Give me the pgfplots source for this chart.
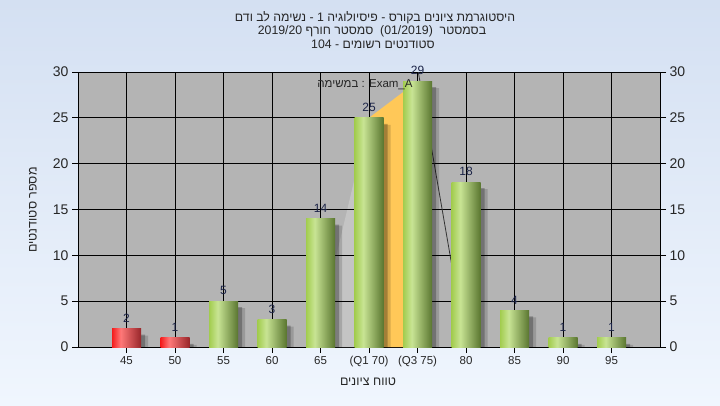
\documentclass[border=0pt]{standalone}
\usepackage{pgfplots}
\pgfplotsset{compat=1.18}
\usepackage{fontspec}
\setmainfont{Liberation Sans}
\newfontfamily\heb[Script=Hebrew]{Liberation Sans}
\TeXXeTstate=1
\definecolor{bgtop}{HTML}{D4E0F2}
\definecolor{bgbot}{HTML}{F0F6FE}
\definecolor{plotgray}{HTML}{B4B4B4}
\definecolor{gA}{HTML}{A2CC4E}
\definecolor{gB}{HTML}{C8E494}
\definecolor{gC}{HTML}{5A7630}
\definecolor{rA}{HTML}{F41C1C}
\definecolor{rB}{HTML}{FF7878}
\definecolor{rC}{HTML}{98262A}
\definecolor{qorange}{HTML}{FFC858}
\definecolor{lbl}{HTML}{1C2448}
\definecolor{lightpoly}{HTML}{C4C4C4}
\pgfdeclarehorizontalshading{greenbar}{100bp}{color(0bp)=(gA); color(25bp)=(gA); color(40bp)=(gB); color(75bp)=(gC); color(100bp)=(gC)}
\pgfdeclarehorizontalshading{redbar}{100bp}{color(0bp)=(rA); color(25bp)=(rA); color(40bp)=(rB); color(75bp)=(rC); color(100bp)=(rC)}
\pgfplotsset{/pgf/number format/assume math mode=true,
  gbar/.style={ybar, bar width=29pt, bar shift=0pt, shading=greenbar, draw=none, nodes near coords},
  rbar/.style={ybar, bar width=29pt, bar shift=0pt, shading=redbar, draw=none, nodes near coords},
  gf/.style={fill=black, draw=none, forget plot}}
\begin{document}
\begin{tikzpicture}[x=1pt,y=1pt]
\shade[top color=bgtop, bottom color=bgbot] (0,0) rectangle (720,405);
\fill[plotgray] (78,58) rectangle (660,333);
\begin{axis}[at={(78pt,58pt)}, anchor=south west, scale only axis,
  width=582pt, height=275pt, xmin=-1, xmax=11, ymin=0, ymax=30,
  xtick={0,...,10}, xticklabels={45,50,55,60,65,(Q1 70),(Q3 75),80,85,90,95},
  ytick={0,5,...,30},
  tick align=outside, major tick length=6pt, xtick pos=bottom, ytick pos=left,
  tick style={black, line width=0.8pt}, axis line style={black, line width=0.8pt},
  xticklabel style={font=\fontsize{11.5}{12}\selectfont, text=black!85},
  yticklabel style={font=\fontsize{14}{15}\selectfont, text=black!85},
  nodes near coords style={font=\fontsize{12}{13}\selectfont, text=lbl, anchor=south, inner sep=1pt, yshift=5pt}]
\addplot[fill=lightpoly, draw=none, forget plot] coordinates {(3.88,0) (5,25) (5,0) (3.88,0)};
% grid lines as thin filled strips (about 1px wide)
\addplot[gf] coordinates {(-0.0095,0) (-0.0095,30) (0.0095,30) (0.0095,0)};
\addplot[gf] coordinates {(0.9905,0) (0.9905,30) (1.0095,30) (1.0095,0)};
\addplot[gf] coordinates {(1.9905,0) (1.9905,30) (2.0095,30) (2.0095,0)};
\addplot[gf] coordinates {(2.9905,0) (2.9905,30) (3.0095,30) (3.0095,0)};
\addplot[gf] coordinates {(3.9905,0) (3.9905,30) (4.0095,30) (4.0095,0)};
\addplot[gf] coordinates {(4.9905,0) (4.9905,30) (5.0095,30) (5.0095,0)};
\addplot[gf] coordinates {(5.9905,0) (5.9905,30) (6.0095,30) (6.0095,0)};
\addplot[gf] coordinates {(6.9905,0) (6.9905,30) (7.0095,30) (7.0095,0)};
\addplot[gf] coordinates {(7.9905,0) (7.9905,30) (8.0095,30) (8.0095,0)};
\addplot[gf] coordinates {(8.9905,0) (8.9905,30) (9.0095,30) (9.0095,0)};
\addplot[gf] coordinates {(9.9905,0) (9.9905,30) (10.0095,30) (10.0095,0)};
\addplot[gf] coordinates {(-1,4.95) (11,4.95) (11,5.05) (-1,5.05)};
\addplot[gf] coordinates {(-1,9.95) (11,9.95) (11,10.05) (-1,10.05)};
\addplot[gf] coordinates {(-1,14.95) (11,14.95) (11,15.05) (-1,15.05)};
\addplot[gf] coordinates {(-1,19.95) (11,19.95) (11,20.05) (-1,20.05)};
\addplot[gf] coordinates {(-1,24.95) (11,24.95) (11,25.05) (-1,25.05)};
\addplot[fill=qorange, draw=none, forget plot] coordinates {(5,0) (5,25) (6,29) (6,0) (5,0)};
\addplot[black!80, line width=0.8pt, forget plot] coordinates {(6,30.5) (7,0)};
% shadows
\addplot[ybar, bar width=29pt, bar shift=4pt, yshift=-6pt, fill=black, fill opacity=0.25, draw=none] coordinates {(0,2) (1,1) (2,5) (3,3) (4,14) (5,25) (6,29) (7,18) (8,4) (9,1) (10,1)};
\addplot[ybar, bar width=29pt, bar shift=7pt, yshift=-7pt, fill=black, fill opacity=0.15, draw=none] coordinates {(0,2) (1,1) (2,5) (3,3) (4,14) (5,25) (6,29) (7,18) (8,4) (9,1) (10,1)};
% bars, one path each so that every bar gets its own shading
\addplot[rbar] coordinates {(0,2)};
\addplot[rbar] coordinates {(1,1)};
\addplot[gbar] coordinates {(2,5)};
\addplot[gbar] coordinates {(3,3)};
\addplot[gbar] coordinates {(4,14)};
\addplot[gbar] coordinates {(5,25)};
\addplot[gbar] coordinates {(6,29)};
\addplot[gbar] coordinates {(7,18)};
\addplot[gbar] coordinates {(8,4)};
\addplot[gbar] coordinates {(9,1)};
\addplot[gbar] coordinates {(10,1)};
\end{axis}
\begin{axis}[at={(78pt,58pt)}, anchor=south west, scale only axis,
  width=582pt, height=275pt, xmin=-1, xmax=11, ymin=0, ymax=30,
  axis x line=none, axis y line*=right, ytick={0,5,...,30},
  tick align=outside, major tick length=6pt,
  tick style={black, line width=0.8pt}, axis line style={black, line width=0.8pt, -},
  yticklabel style={font=\fontsize{14}{15}\selectfont, text=black!85}]
\addplot[draw=none] coordinates {(0,0)};
\end{axis}
\node[font=\fontsize{12.3}{13}\selectfont, text=black!85] at (375,387) {\heb\beginR היסטוגרמת ציונים בקורס - פיסיולוגיה 1 - נשימה לב ודם\endR};
\node[font=\fontsize{12.3}{13}\selectfont, text=black!85] at (372,374) {\heb\beginR בסמסטר \ (\beginL 01/2019\endL) \ סמסטר חורף \beginL 2019/20\endL\endR};
\node[font=\fontsize{12.3}{13}\selectfont, text=black!85] at (373,361) {\heb\beginR סטודנטים רשומים - \beginL 104\endL\endR};
\node[font=\fontsize{12.5}{13}\selectfont, text=black!85] at (368,23) {\heb\beginR טווח ציונים\endR};
\node[font=\fontsize{12.5}{13}\selectfont, text=black!85, rotate=90] at (33,195) {\heb\beginR מספר סטודנטים\endR};
\node[font=\fontsize{11.5}{12}\selectfont, text=black!85] at (365,320) {\heb\beginR במשימה\endR{} : Exam\_A};
\end{tikzpicture}
\end{document}
